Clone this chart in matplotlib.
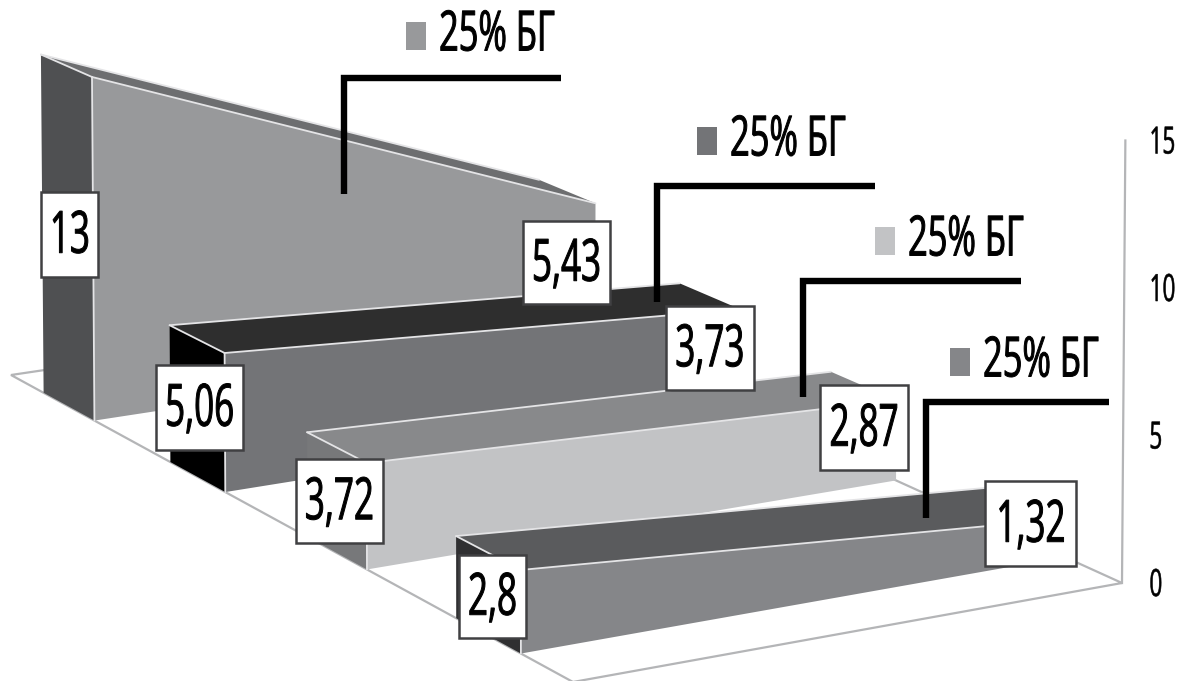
from matplotlib import pyplot as plt
from matplotlib.patches import Polygon, Rectangle
from matplotlib.patheffects import AbstractPathEffect
from matplotlib.transforms import Affine2D
import numpy as np

# Ряды от дальнего к ближнему
series_labels = ['25% БГ', '25% БГ', '25% БГ', '25% БГ']
start_values = [13, 5.06, 3.72, 2.8]
end_values = [5.43, 3.73, 2.87, 1.32]
axis_ticks = [0, 5, 10, 15]

# Цвета граней: бок, перед, верх
side_colors = ['#4f5052', '#000000', '#77787a', '#2f2f31']
front_colors = ['#98999b', '#737477', '#c2c3c5', '#858689']
top_colors = ['#6d6e70', '#2e2e2e', '#88898b', '#5a5b5d']

# Углы пола на рисунке и перспектива
floor_corners = [(11, 375), (503, 302), (573, 682), (1122, 583)]
unit_px = 29.5
slot_back = 0.0575
slot_front = 0.045


def floor_matrix(corners):
    rows, rhs = [], []
    for (a, b), (u, v) in zip([(0, 0), (1, 0), (0, 1), (1, 1)], corners):
        rows.append([a, b, 1, 0, 0, 0, -a * u, -b * u])
        rows.append([0, 0, 0, a, b, 1, -a * v, -b * v])
        rhs += [u, v]
    return np.append(np.linalg.solve(rows, rhs), 1).reshape(3, 3)


H = floor_matrix(floor_corners)
w_corner = H[2, 0] + H[2, 1] + H[2, 2]


def project(x, d, z=0):
    w = H[2, 0] * x + H[2, 1] * d + H[2, 2]
    u = (H[0, 0] * x + H[0, 1] * d + H[0, 2]) / w
    v = (H[1, 0] * x + H[1, 1] * d + H[1, 2]) / w
    # вертикали слегка расходятся кверху
    return (u + (u - 560) * z * 0.0004, v - unit_px * (0.98 + 0.02 * x) * w_corner * z / w)


class Narrow(AbstractPathEffect):
    # сжимает текст по горизонтали, anchor: 0 левый край, 0.5 центр, 1 правый
    def __init__(self, sx, anchor=0.5, stroke=0.7):
        super().__init__()
        self.sx = sx
        self.anchor = anchor
        self.stroke = stroke

    def draw_path(self, renderer, gc, tpath, affine, rgbFace=None):
        box = tpath.get_extents()
        shift = (box.x0 + self.anchor * box.width) * (1 - self.sx)
        squeeze = Affine2D().scale(self.sx, 1).translate(shift, 0)
        # тонкая обводка делает штрихи плотнее
        gc0 = renderer.new_gc()
        gc0.copy_properties(gc)
        gc0.set_foreground('black')
        gc0.set_linewidth(self.stroke)
        renderer.draw_path(gc0, tpath, squeeze + affine, rgbFace)
        gc0.restore()


fig = plt.figure(figsize=(11.8, 6.81), dpi=100)
ax = fig.add_axes([0, 0, 1, 1])
ax.set_xlim(0, 1180)
ax.set_ylim(681, 0)
ax.axis('off')

font = ['Open Sans', 'DejaVu Sans']
grid = '#b4b5b7'

# Пол и вертикальная ось
ax.add_patch(Polygon([project(0, 0), project(1, 0), project(1, 1), project(0, 1)],
                     closed=True, facecolor='white', edgecolor=grid, lw=1.6, zorder=1))
ax.plot(*zip(project(1, 1, 0), project(1, 1, axis_ticks[-1])), color=grid, lw=1.6, zorder=1)
for tick in axis_ticks:
    u, v = project(1, 1, tick)
    label = str(tick)
    ax.text(1150 + 13 * len(label), v + 3, label, family=font, fontsize=27, ha='right', va='center',
            zorder=1, path_effects=[Narrow(0.6, anchor=1, stroke=0.4)])

# Области
for i in range(len(start_values)):
    center = (i + 0.5) / len(start_values)
    d0, d1 = center - slot_back, center + slot_front
    v0, v1 = start_values[i], end_values[i]
    zo = 2 + i
    side = [project(0, d0), project(0, d1), project(0, d1, v0), project(0, d0, v0)]
    top = [project(0, d0, v0), project(1, d0, v1), project(1, d1, v1), project(0, d1, v0)]
    front = [project(0, d1), project(1, d1), project(1, d1, v1), project(0, d1, v0)]
    ax.add_patch(Polygon(side, closed=True, facecolor=side_colors[i], edgecolor='none', zorder=zo))
    ax.add_patch(Polygon(top, closed=True, facecolor=top_colors[i], edgecolor='none', zorder=zo))
    ax.add_patch(Polygon(front, closed=True, facecolor=front_colors[i], edgecolor='none', zorder=zo))
    # светлые рёбра
    for a, b in [(front[0], front[3]), (front[3], front[2]), (top[0], top[3]), (top[0], top[1])]:
        ax.plot(*zip(a, b), color='#e4e4e6', lw=1.3, zorder=zo, solid_capstyle='round')

# Подписи значений
label_boxes = [[(41, 192, 57, 85), (523, 221, 87, 83)],
               [(156, 365, 87, 85), (666, 306, 88, 84)],
               [(296, 459, 87, 84), (820, 385, 88, 85)],
               [(459, 555, 67, 83), (985, 481, 91, 85)]]
for i, boxes in enumerate(label_boxes):
    for value, (x, y, w, h) in zip([start_values[i], end_values[i]], boxes):
        ax.add_patch(Rectangle((x, y), w, h, facecolor='white', edgecolor='#404042', lw=1.8, zorder=10))
        ax.text(x + w / 2, y + h / 2 + 3, f'{value:g}'.replace('.', ','), family=font, fontsize=42,
                ha='center', va='center', zorder=11, path_effects=[Narrow(0.6)])

# Выноски и легенда
leaders = [[(561, 78), (344, 78), (344, 194)],
           [(875, 186), (657, 186), (657, 302)],
           [(1021, 281), (803, 281), (803, 397)],
           [(1109, 402), (926, 402), (926, 518)]]
legend_pos = [(406, 22), (697, 127), (875, 227), (950, 348)]
legend_colors = ['#98999b', '#737477', '#c2c3c5', '#858689']
for i, pts in enumerate(leaders):
    ax.plot(*zip(*pts), color='black', lw=4.6, solid_joinstyle='miter', solid_capstyle='butt', zorder=12)
    x, y = legend_pos[i]
    ax.add_patch(Rectangle((x, y), 20, 28, facecolor=legend_colors[i], edgecolor='none', zorder=12))
    ax.text(x + 32, y + 14, series_labels[i], family=font, fontsize=40, ha='left', va='center', zorder=12,
            path_effects=[Narrow(0.62, anchor=0)])

fig.savefig('out.png', dpi=100)
